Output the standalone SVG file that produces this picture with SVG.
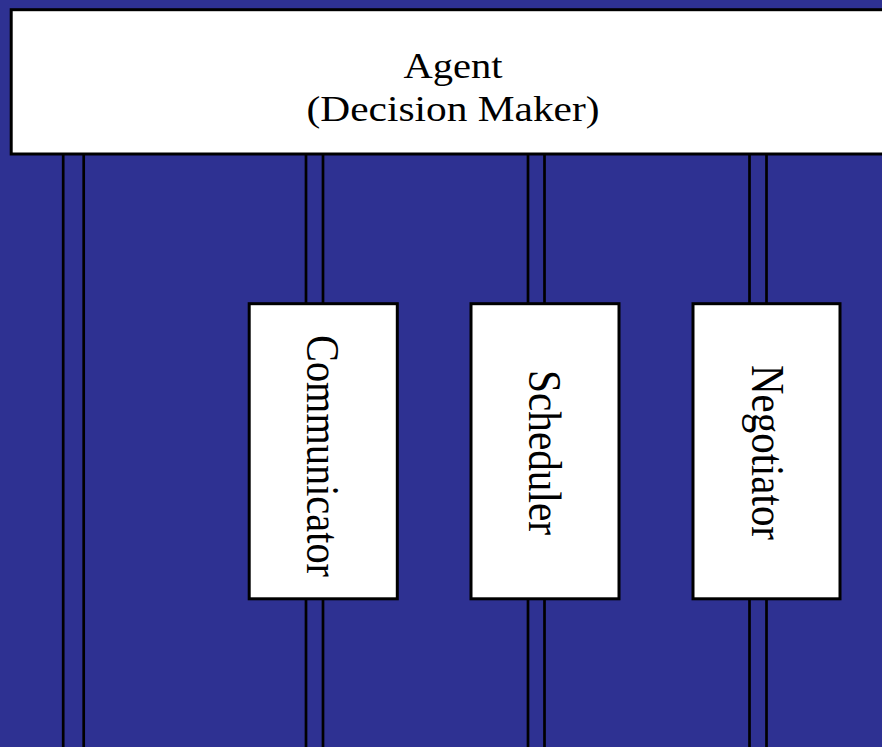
<svg xmlns="http://www.w3.org/2000/svg" width="882" height="747" viewBox="0 0 882 747">
<style>
.bg{fill:#2E3192}
.box{fill:#ffffff;stroke:#000000;stroke-width:3}
.wire{stroke:#000000;stroke-width:2.7;fill:none}
.lbl{font-family:"Liberation Serif","Times New Roman",serif;fill:#000000;text-anchor:middle}
</style>
<rect class="bg" x="0" y="0" width="882" height="747"/>
<g id="connectors">
<line class="wire" x1="63.2" y1="154" x2="63.2" y2="747"/>
<line class="wire" x1="83.7" y1="154" x2="83.7" y2="747"/>
<line class="wire" x1="306" y1="154" x2="306" y2="304"/>
<line class="wire" x1="323" y1="154" x2="323" y2="304"/>
<line class="wire" x1="306" y1="599" x2="306" y2="747"/>
<line class="wire" x1="323" y1="599" x2="323" y2="747"/>
<line class="wire" x1="528" y1="154" x2="528" y2="304"/>
<line class="wire" x1="544.5" y1="154" x2="544.5" y2="304"/>
<line class="wire" x1="528" y1="599" x2="528" y2="747"/>
<line class="wire" x1="544.5" y1="599" x2="544.5" y2="747"/>
<line class="wire" x1="749.5" y1="154" x2="749.5" y2="304"/>
<line class="wire" x1="766.5" y1="154" x2="766.5" y2="304"/>
<line class="wire" x1="749.5" y1="599" x2="749.5" y2="747"/>
<line class="wire" x1="766.5" y1="599" x2="766.5" y2="747"/>
</g>
<g id="agent">
<rect class="box" x="11.2" y="9.7" width="900" height="144.3"/>
<text class="lbl" x="453" y="78" font-size="36" textLength="99" lengthAdjust="spacingAndGlyphs">Agent</text>
<text class="lbl" x="453" y="121" font-size="36" textLength="293" lengthAdjust="spacingAndGlyphs">(Decision Maker)</text>
</g>
<g id="communicator">
<rect class="box" x="249.2" y="303.7" width="148.1" height="295.1"/>
<text class="lbl" font-size="46" transform="translate(307,456) rotate(90)" textLength="242" lengthAdjust="spacingAndGlyphs">Communicator</text>
</g>
<g id="scheduler">
<rect class="box" x="471" y="303.7" width="148" height="295.1"/>
<text class="lbl" font-size="46" transform="translate(528.5,452.5) rotate(90)" textLength="165" lengthAdjust="spacingAndGlyphs">Scheduler</text>
</g>
<g id="negotiator">
<rect class="box" x="693" y="303.7" width="147" height="295.1"/>
<text class="lbl" font-size="46" transform="translate(752,452.5) rotate(90)" textLength="175" lengthAdjust="spacingAndGlyphs">Negotiator</text>
</g>
</svg>
